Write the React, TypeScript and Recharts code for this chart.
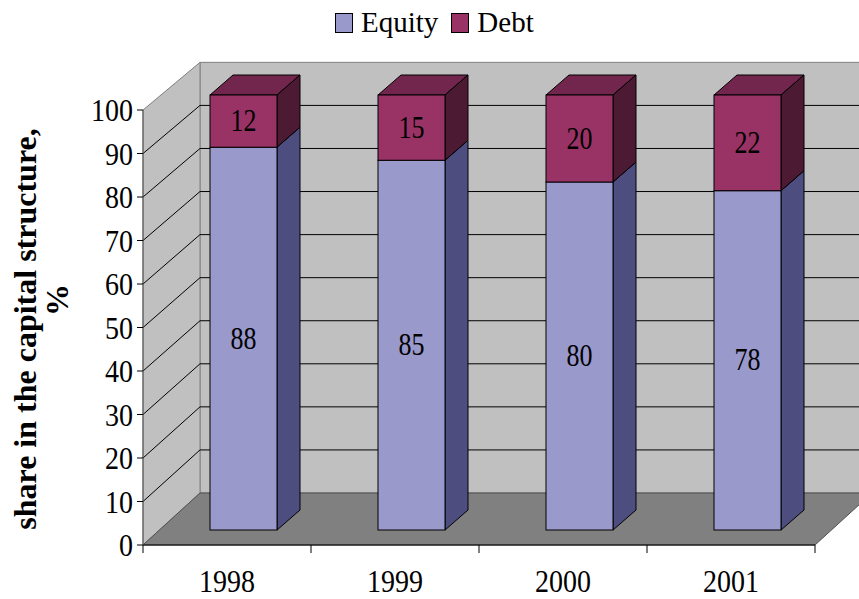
import { BarChart, Bar, XAxis, YAxis, ReferenceArea, LabelList } from 'recharts';

const years = ['1998', '1999', '2000', '2001'];
const equity = [88, 85, 80, 78];
const debt = [12, 15, 20, 22];
const yTicks = [0, 10, 20, 30, 40, 50, 60, 70, 80, 90, 100];

const data = years.map((year, i) => ({ year, equity: equity[i], debt: debt[i] }));

const SERIF = '"Liberation Serif", "DejaVu Serif", serif';

// 3D look: front plane -> back wall, front plane -> bar faces, bar depth
const DEPTH = { dx: 57, dy: -52 };
const BAR_OFF = { dx: 16, dy: -15 };
const BAR_DEPTH = { dx: 23, dy: -20 };

const EQUITY = { face: '#9999cc', top: '#7777aa', side: '#4d4d80' };
const DEBT = { face: '#993366', top: '#73264d', side: '#4d1a33' };

const pts = (p: number[][]) => p.map(q => q.join(',')).join(' ');

function Room(props: any) {
  const { x, y, width, height } = props;
  const fy = (v: number) => y + height * (1 - v / 100);
  const bx = x + DEPTH.dx;
  const by0 = y + height + DEPTH.dy;
  const by = (v: number) => by0 - height * 0.99 * v / 100;
  const right = 900;
  const x1 = x + width;
  const yb = y + height;
  const band = width / years.length;
  return (
    <g>
      <polygon points={pts([[bx, by(100)], [right, by(100)], [right, by0], [bx, by0]])} fill="#c0c0c0" stroke="#808080" />
      <polygon points={pts([[x, yb], [x, y], [bx, by(100)], [bx, by0]])} fill="#c0c0c0" stroke="#808080" />
      <polygon points={pts([[x, yb], [bx, by0], [x1 + DEPTH.dx, by0], [x1, yb]])} fill="#808080" stroke="#505050" />
      {yTicks.filter(v => v > 0 && v < 100).map(v => (
        <g key={v}>
          <line x1={x} y1={fy(v)} x2={bx} y2={by(v)} stroke="#000" />
          <line x1={bx} y1={by(v)} x2={right} y2={by(v)} stroke="#000" />
        </g>
      ))}
      {years.map((_, i) => i).concat([years.length]).map(i => (
        <line key={'t' + i} x1={x + band * i} y1={yb} x2={x + band * i} y2={yb + 8} stroke="#000" />
      ))}
    </g>
  );
}

function Block(props: any) {
  const { x, y, width: w, height: h, colors } = props;
  const x0 = x + BAR_OFF.dx;
  const y0 = y + BAR_OFF.dy;
  const { dx, dy } = BAR_DEPTH;
  return (
    <g stroke="#000" strokeWidth={1}>
      <polygon points={pts([[x0, y0], [x0 + dx, y0 + dy], [x0 + w + dx, y0 + dy], [x0 + w, y0]])} fill={colors.top} />
      <polygon points={pts([[x0 + w, y0], [x0 + w + dx, y0 + dy], [x0 + w + dx, y0 + h + dy], [x0 + w, y0 + h]])} fill={colors.side} />
      <rect x={x0} y={y0} width={w} height={h} fill={colors.face} />
    </g>
  );
}

const renderValue = (p: any) => {
  const cx = p.x + p.width / 2 + BAR_OFF.dx;
  const cy = p.y + p.height / 2 + BAR_OFF.dy;
  return (
    <text transform={`translate(${cx},${cy + 10}) scale(1,1.2)`} textAnchor="middle"
      fontFamily={SERIF} fontSize={26} fill="#000">
      {p.value}
    </text>
  );
};

const YTick = (p: any) => (
  <text transform={`translate(${p.x},${p.y + 11}) scale(1,1.16)`} textAnchor="end"
    fontFamily={SERIF} fontSize={28} fill="#000">
    {p.payload.value}
  </text>
);

const XTick = (p: any) => (
  <text transform={`translate(${p.x},${p.y + 47}) scale(1,1.16)`} textAnchor="middle"
    fontFamily={SERIF} fontSize={28} fill="#000">
    {p.payload.value}
  </text>
);

const AxisTitle = () => (
  <g fontFamily={SERIF} fontWeight="bold" fontSize={32} fill="#000">
    <text transform="translate(36,329) rotate(-90)" textAnchor="middle">share in the capital structure,</text>
    <text transform="translate(68,300) rotate(-90)" textAnchor="middle">%</text>
  </g>
);

function LegendItem({ color, label }: { color: string; label: string }) {
  return (
    <div style={{ display: 'flex', alignItems: 'center' }}>
      <div style={{ width: 18, height: 20, background: color, border: '1px solid #000', boxSizing: 'border-box', marginRight: 8 }} />
      <span>{label}</span>
    </div>
  );
}

export default function App() {
  return (
    <div style={{ position: 'absolute', left: 0, top: 0, width: 859, height: 599, background: '#fff' }}>
      <BarChart width={859} height={599} data={data} margin={{ top: 110, right: 44, bottom: 24, left: 0 }}>
        <XAxis dataKey="year" height={30} tickLine={false} tickSize={0} tickMargin={0}
          axisLine={{ stroke: '#000' }} tick={XTick} interval={0} />
        <YAxis domain={[0, 100]} ticks={yTicks} width={143} tickSize={6} tickMargin={4} interval={0}
          axisLine={{ stroke: '#555' }} tickLine={{ stroke: '#000' }} tick={YTick}
          label={{ content: AxisTitle }} />
        <ReferenceArea y1={0} y2={100} ifOverflow="visible" shape={Room} />
        <Bar dataKey="equity" stackId="a" barSize={67} isAnimationActive={false}
          shape={(p: any) => <Block {...p} colors={EQUITY} />}>
          <LabelList dataKey="equity" content={renderValue} />
        </Bar>
        <Bar dataKey="debt" stackId="a" barSize={67} isAnimationActive={false}
          shape={(p: any) => <Block {...p} colors={DEBT} />}>
          <LabelList dataKey="debt" content={renderValue} />
        </Bar>
      </BarChart>
      <div style={{ position: 'absolute', left: 335, top: 8, display: 'flex', gap: 13, fontFamily: SERIF, fontSize: 29, lineHeight: 1 }}>
        <LegendItem color={EQUITY.face} label="Equity" />
        <LegendItem color={DEBT.face} label="Debt" />
      </div>
    </div>
  );
}
